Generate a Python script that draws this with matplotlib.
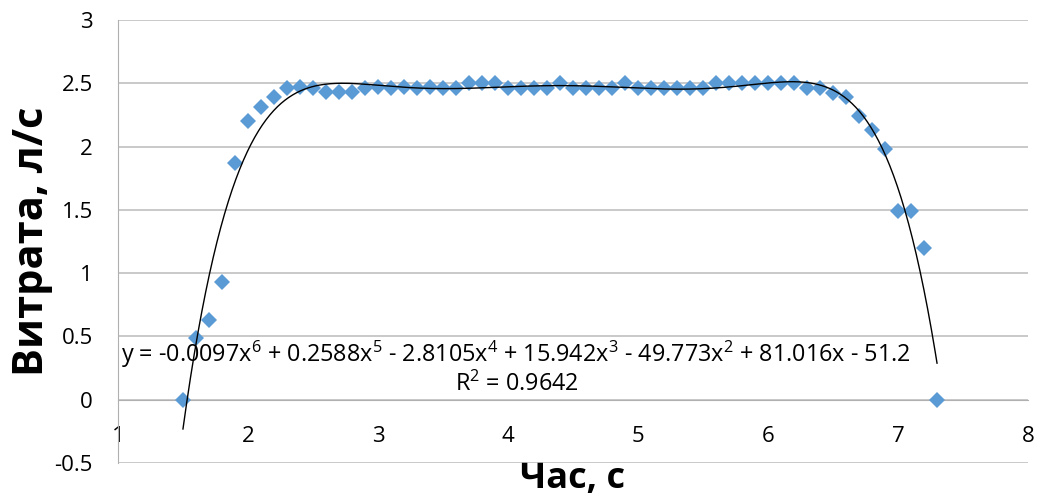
import matplotlib
matplotlib.use('Agg')
import numpy as np
import matplotlib.pyplot as plt

plt.rcParams['font.family'] = ['Open Sans', 'DejaVu Sans']
plt.rcParams['mathtext.default'] = 'regular'

# time, s
time_s = [1.5, 1.6, 1.7, 1.8, 1.9, 2.0, 2.1, 2.2, 2.3, 2.4,
          2.5, 2.6, 2.7, 2.8, 2.9, 3.0, 3.1, 3.2, 3.3, 3.4,
          3.5, 3.6, 3.7, 3.8, 3.9, 4.0, 4.1, 4.2, 4.3, 4.4,
          4.5, 4.6, 4.7, 4.8, 4.9, 5.0, 5.1, 5.2, 5.3, 5.4,
          5.5, 5.6, 5.7, 5.8, 5.9, 6.0, 6.1, 6.2, 6.3, 6.4,
          6.5, 6.6, 6.7, 6.8, 6.9, 7.0, 7.1, 7.2, 7.3]
# flow rate, l/s
flow = [0.0, 0.49, 0.63, 0.93, 1.87, 2.20, 2.31, 2.39, 2.46, 2.47,
        2.46, 2.43, 2.43, 2.43, 2.46, 2.47, 2.46, 2.47, 2.46, 2.47,
        2.46, 2.46, 2.50, 2.50, 2.50, 2.46, 2.46, 2.46, 2.46, 2.50,
        2.46, 2.46, 2.46, 2.46, 2.50, 2.46, 2.46, 2.46, 2.46, 2.46,
        2.46, 2.50, 2.50, 2.50, 2.50, 2.50, 2.50, 2.50, 2.46, 2.46,
        2.42, 2.39, 2.24, 2.13, 1.98, 1.49, 1.49, 1.20, 0.0]

eq_text = ('y = -0.0097x$^{6}$ + 0.2588x$^{5}$ - 2.8105x$^{4}$ + 15.942x$^{3}$'
           ' - 49.773x$^{2}$ + 81.016x - 51.2')
r2_text = 'R$^{2}$ = 0.9642'

x = np.array(time_s)
y = np.array(flow)
coef = np.polyfit(x, y, 6)
xs = np.linspace(x.min(), x.max(), 400)
ys = np.polyval(coef, xs)

fig = plt.figure(figsize=(10.42, 4.98), dpi=100)
ax = fig.add_axes([0.1132, 0.0703, 0.8734, 0.8895])

ax.plot(x, y, linestyle='none', marker='D', ms=8.5, color='#5b9bd5',
        markeredgewidth=0, zorder=3)
ax.plot(xs, ys, color='black', lw=1, zorder=4)

ax.set_xlim(1, 8)
ax.set_ylim(-0.5, 3)
ax.set_yticks(np.arange(-0.5, 3.01, 0.5))
ax.set_yticklabels(['-0.5', '0', '0.5', '1', '1.5', '2', '2.5', '3'])
ax.set_xticks(range(1, 9))

ax.grid(axis='y', color='#c0c0c0', lw=1.2)
ax.set_axisbelow(True)
for s in ['top', 'right']:
    ax.spines[s].set_visible(False)
ax.spines['bottom'].set_position(('data', 0))
ax.spines['bottom'].set_color('#b0b0b0')
ax.spines['left'].set_color('#b0b0b0')
ax.tick_params(axis='both', length=0, labelsize=16)
ax.tick_params(axis='x', pad=19)
ax.tick_params(axis='y', pad=18)

ax.set_ylabel('Витрата, л/с', fontsize=30, fontweight='bold')
ax.yaxis.set_label_coords(-0.071, 0.5)
ax.set_xlabel('Час, с', fontsize=26, fontweight='bold')
ax.xaxis.set_label_coords(0.5, 0.004)

ax.text(4.06, 0.355, eq_text, fontsize=16.8, ha='center', va='center')
ax.text(4.07, 0.12, r2_text, fontsize=16.8, ha='center', va='center')

fig.savefig('out.png', dpi=100)
